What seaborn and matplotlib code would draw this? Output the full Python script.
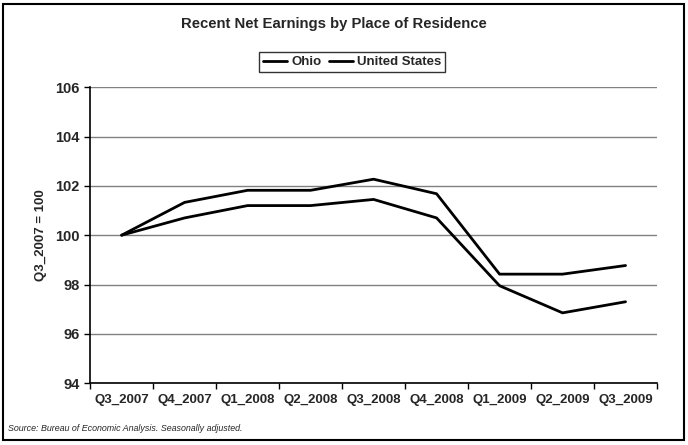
import matplotlib
matplotlib.use("Agg")
import matplotlib.pyplot as plt
import seaborn as sns
import pandas as pd
from matplotlib.patches import Rectangle

# data
quarters = ["Q3_2007", "Q4_2007", "Q1_2008", "Q2_2008", "Q3_2008",
            "Q4_2008", "Q1_2009", "Q2_2009", "Q3_2009"]
ohio = [100.0, 100.7, 101.2, 101.2, 101.45, 100.7, 97.95, 96.85, 97.3]
united_states = [100.0, 101.33, 101.82, 101.82, 102.27, 101.68, 98.42, 98.42, 98.77]

df = pd.DataFrame({"Quarter": quarters * 2,
                   "Value": ohio + united_states,
                   "Series": ["Ohio"] * len(quarters) + ["United States"] * len(quarters)})

sns.set_theme(style="white")
plt.rcParams['font.family'] = ['Liberation Sans', 'DejaVu Sans']

fig = plt.figure(figsize=(6.88, 4.45), dpi=100)
ax = fig.add_axes([0.131, 0.139, 0.824, 0.665])

df["x"] = df["Quarter"].map({q: i for i, q in enumerate(quarters)})
sns.lineplot(data=df, x="x", y="Value", hue="Series",
             palette={"Ohio": "black", "United States": "black"},
             linewidth=2, ax=ax, legend=True)

ax.set_xlim(-0.5, len(quarters) - 0.5)
ax.set_ylim(94, 106)
ax.set_yticks(range(94, 107, 2))
ax.set_xticks([i + 0.5 for i in range(-1, len(quarters))])
ax.set_xticklabels([])
ax.set_xticks(range(len(quarters)), minor=True)
ax.set_xticklabels(quarters, minor=True, fontsize=9.5, fontweight="bold")
ax.tick_params(axis="x", which="minor", length=0, pad=8)
ax.tick_params(axis="x", which="major", length=4, width=1, color="black", direction="out", bottom=True)
ax.tick_params(axis="y", length=4, width=1, color="black", direction="out", left=True, labelsize=10.5)
for t in ax.get_yticklabels():
    t.set_fontweight("bold")

ax.yaxis.grid(True, color="#808080", linewidth=1)
ax.set_axisbelow(True)
for s in ["top", "right"]:
    ax.spines[s].set_visible(False)
ax.spines["left"].set_color("black")
ax.spines["bottom"].set_color("black")
ax.spines["left"].set_linewidth(1.2)
ax.spines["bottom"].set_linewidth(1.2)

ax.set_xlabel("")
ax.set_ylabel("Q3_2007 = 100", fontsize=9.5, fontweight="bold", labelpad=6)

handles, labels = ax.get_legend_handles_labels()
leg = ax.legend(handles, labels, loc="center", bbox_to_anchor=(0.512, 0.86),
                bbox_transform=fig.transFigure, ncol=2, frameon=True,
                fancybox=False, edgecolor="black", fontsize=9.5,
                handlelength=1.8, columnspacing=0.6, handletextpad=0.3,
                borderpad=0.3)
leg.get_frame().set_linewidth(1)
for t in leg.get_texts():
    t.set_fontweight("bold")

fig.text(0.485, 0.945, "Recent Net Earnings by Place of Residence",
         ha="center", va="center", fontsize=10.7, fontweight="bold")
fig.text(0.012, 0.038, "Source: Bureau of Economic Analysis. Seasonally adjusted.",
         ha="left", va="center", fontsize=6.4, style="italic")

fig.patches.append(Rectangle((0.004, 0.012), 0.99, 0.98, transform=fig.transFigure,
                             fill=False, edgecolor="black", linewidth=1.5))

fig.savefig("out.png", dpi=100)
